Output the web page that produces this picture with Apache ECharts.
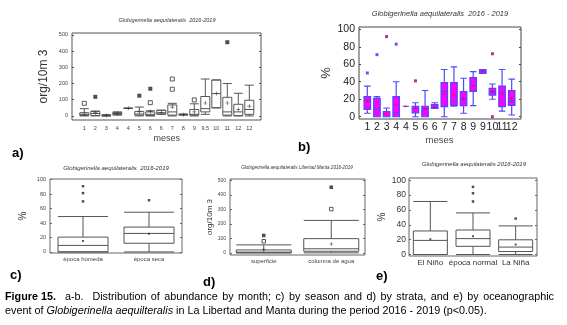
<!DOCTYPE html>
<html><head><meta charset="utf-8">
<script src="https://cdn.jsdelivr.net/npm/echarts@6/dist/echarts.min.js"></script>
<style>html,body{margin:0;padding:0;background:#fff}#c{width:567px;height:325px}</style>
</head><body><div id="c"></div>
<script>
// ---------- Panel a: abundance by month (org/10m3) ----------
const catsA = ['1','2','3','4','4','5','6','6','7','8','9','9.5','10','11','12','12'];
const boxesA = [
  [0,3,10,20,45],[0,3,15,28,30],[0,0,2,5,8],[5,8,15,22,25],[46,47,47,48,48],
  [0,5,12,28,55],[0,2,10,25,32],[10,12,20,35,35],[0,5,25,68,78],[5,7,8,10,12],
  [0,5,10,40,75],[10,25,45,120,228],[50,50,138,222,222],[0,5,25,115,200],
  [0,2,25,72,140],[0,10,40,97,190]];
const meansA = [12,20,3,15,47,25,28,22,55,8,25,80,138,80,40,60];
const outFilledA = [[1,118],[5,125],[6,168],[13,455]];
const outOpenA = [[0,78],[6,82],[8,165],[8,228],[10,99]];
const ticksA = [0,100,200,300,400,500];

// ---------- Panel b: percentage by month ----------
const catsB = ['1','2','3','4','4','5','6','6','7','7','8','9','9','10','11','12'];
const boxesB = [
  [4,8.4,18,23,35],[0,0,9,21,23],[0,0,0,6,10],[0,0,4,23,40],[12,12,12,12,12],
  [0,4.5,9.5,12,16],[0,0,9,12,30],[9.5,9.5,10.7,14,16],[0,11.5,29,39,54],
  [12,13,18,39,57],[4,12.6,20,28.6,44],[12.6,29,36,44.6,51.5],[49.6,49.6,51.5,54,54],
  [20,24.8,28,32.4,37.4],[6.5,11.5,28,35,54],[2,13,17.6,30,43]];
const meansB = [18,16.5,3,14,12,10,9,11,26,25,21,35,51.5,29,26,21];
const outBlueB = [[0,50],[1,71],[3,83]];
const outPurpleB = [[2,91.6],[5,41],[13,72],[13,0]];
const ticksB = [0,20,40,60,80,100];

// ---------- Panel c: by season ----------
const catsC = ['época húmeda','época seca'];
const boxesC = [[0,0,9,20.5,49],[0,12,25.6,34.4,55]];
const meansC = [15,25];
const outC = [[0,91],[0,81.4],[0,70],[1,71.6]];
const ticksC = [0,20,40,60,80,100];

// ---------- Panel d: by strata ----------
const catsD = ['superficie','columna de agua'];
const boxesD = [[0,0,5,20,55],[0,11,28,98,224]];
const meansD = [20,61];
const outFilledD = [[0,120],[1,453]];
const outOpenD = [[0,80],[1,302]];
const ticksD = [0,100,200,300,400,500];

// ---------- Panel e: by oceanographic event ----------
const catsE = ['El Niño','época normal','La Niña'];
const boxesE = [[0,0,19,31.7,71.4],[0,11,21.4,33,56],[0,4,10,19.8,38.5]];
const meansE = [20.6,24.6,13.5];
const outE = [[1,91],[1,82.5],[1,71.4],[2,48.4]];
const ticksE = [0,20,40,60,80,100];

const FONT = 'Liberation Sans, Arial, sans-serif';
const PLUS = 'path://M-1,-0.18H1V0.18H-1Z M-0.18,-1H0.18V1H-0.18Z';
const option = {animation:false, grid:[], xAxis:[], yAxis:[], series:[], graphic:[]};

function panel(p){
  const gi = option.grid.length, xi = option.xAxis.length, yi = option.yAxis.length;
  option.grid.push({left:p.l, top:p.t, width:p.w, height:p.h, show:true,
    borderColor:p.frame, borderWidth:1, backgroundColor:'rgba(0,0,0,0)'});
  option.grid.push({left:p.l+p.il, top:p.t, width:p.w-p.il-p.ir, height:p.h, show:false});
  option.xAxis.push({gridIndex:gi, type:'value', show:false, min:0, max:1});
  option.xAxis.push({gridIndex:gi+1, type:'category', data:p.cats,
    axisLine:{show:false}, axisTick:{show:false}, splitLine:{show:false},
    axisLabel:{interval:0, fontSize:p.xfs, color:p.xcol, margin:p.xmargin, fontFamily:FONT},
    name:p.xName||'', nameLocation:'middle', nameGap:p.xNameGap||0,
    nameTextStyle:{fontSize:p.xNameFs||9, color:'#444', fontFamily:FONT}});
  option.yAxis.push({gridIndex:gi, type:'value', min:p.min, max:p.max,
    axisLine:{show:false}, splitLine:{show:false},
    axisTick:{show:true, inside:true, length:2, customValues:p.ticks, lineStyle:{color:p.frame}},
    axisLabel:{customValues:p.ticks, fontSize:p.yfs, color:p.ycol, margin:p.ymargin, fontFamily:FONT},
    name:p.yName, nameLocation:'middle', nameGap:p.yNameGap, nameRotate:90,
    nameTextStyle:{fontSize:p.yNameFs, color:'#333', fontFamily:FONT}});
  option.yAxis.push({gridIndex:gi, type:'value', position:'right', min:p.min, max:p.max,
    axisLine:{show:false}, splitLine:{show:false}, axisLabel:{show:false},
    axisTick:{show:true, inside:true, length:2, customValues:p.ticks, lineStyle:{color:p.frame}}});
  option.yAxis.push({gridIndex:gi+1, type:'value', min:p.min, max:p.max, show:false});
  const X = xi+1, Y = yi+2;
  option.series.push({type:'boxplot', xAxisIndex:X, yAxisIndex:Y, data:p.boxes,
    boxWidth:[p.bw,p.bw], itemStyle:{color:p.fill, borderColor:p.stroke, borderWidth:p.lw||1},
    silent:true});
  option.series.push({type:'scatter', xAxisIndex:X, yAxisIndex:Y,
    data:p.means.map((m,i)=>[i,m]), symbol:p.meanSym, symbolSize:p.meanSize,
    itemStyle:{color:p.meanCol}, silent:true, z:5});
  (p.outs||[]).forEach(o=>{
    option.series.push({type:'scatter', xAxisIndex:X, yAxisIndex:Y, data:o.data,
      symbol:o.sym||'rect', symbolSize:o.size, itemStyle:o.style, silent:true, z:6});
  });
}

panel({l:72,t:33,w:189,h:87, il:6.8, ir:6.2, frame:'#555', cats:catsA, boxes:boxesA,
  min:-25, max:512, ticks:ticksA, xfs:5.5, xcol:'#444', xmargin:5, yfs:5.5, ycol:'#444', ymargin:4,
  xName:'meses', xNameGap:14, xNameFs:9, yName:'org/10m 3', yNameGap:22, yNameFs:12,
  bw:9, fill:'#fff', stroke:'#555', means:meansA, meanSym:PLUS, meanSize:4, meanCol:'#333',
  outs:[{data:outFilledA, size:4, style:{color:'#222'}},
        {data:outOpenA, size:4, style:{color:'#fff', borderColor:'#333', borderWidth:1}}]});

panel({l:359,t:27,w:162,h:92, il:3.5, ir:4.5, frame:'#444', cats:catsB, boxes:boxesB,
  min:-2.6, max:102.6, ticks:ticksB, xfs:10.5, xcol:'#222', xmargin:3, yfs:10.5, ycol:'#222', ymargin:4,
  xName:'meses', xNameGap:16, xNameFs:9.5, yName:'%', yNameGap:26, yNameFs:13,
  bw:6.5, fill:'#ff00ff', stroke:'#4a4aff', lw:1.2, means:meansB, meanSym:PLUS, meanSize:3, meanCol:'#e00000',
  outs:[{data:outBlueB, size:3, style:{color:'#3030ff'}},
        {data:outPurpleB, size:3, style:{color:'#990077'}}]});

panel({l:50,t:179,w:132,h:74, il:0, ir:0, frame:'#666', cats:catsC, boxes:boxesC,
  min:-1.5, max:101, ticks:ticksC, xfs:6, xcol:'#444', xmargin:3, yfs:5.5, ycol:'#444', ymargin:4,
  yName:'%', yNameGap:22, yNameFs:10,
  bw:50, fill:'#fff', stroke:'#555', means:meansC, meanSym:'rect', meanSize:2, meanCol:'#333',
  outs:[{data:outC, size:2.5, style:{color:'#222'}}]});

panel({l:230,t:179,w:135,h:76, il:0, ir:0, frame:'#666', cats:catsD, boxes:boxesD,
  min:-15, max:510, ticks:ticksD, xfs:6, xcol:'#444', xmargin:3, yfs:5, ycol:'#444', ymargin:4,
  yName:'org/10m 3', yNameGap:11, yNameFs:8,
  bw:55, fill:'#fff', stroke:'#555', means:meansD, meanSym:PLUS, meanSize:4, meanCol:'#333',
  outs:[{data:outFilledD, size:3.5, style:{color:'#222'}},
        {data:outOpenD, size:3.5, style:{color:'#fff', borderColor:'#333', borderWidth:1}}]});

panel({l:409,t:178,w:128,h:78, il:0, ir:0, frame:'#666', cats:catsE, boxes:boxesE,
  min:-2, max:103, ticks:ticksE, xfs:8, xcol:'#333', xmargin:3, yfs:8.5, ycol:'#333', ymargin:3,
  yName:'%', yNameGap:22, yNameFs:10,
  bw:34, fill:'#fff', stroke:'#555', means:meansE, meanSym:'rect', meanSize:2, meanCol:'#333',
  outs:[{data:outE, size:2.5, style:{color:'#222'}}]});

function txt(x,y,text,fs,extra){
  option.graphic.push({type:'text', x:x, y:y, silent:true,
    style:Object.assign({text:text, fontSize:fs, fontFamily:FONT, fill:'#222',
      align:'center', verticalAlign:'middle'}, extra||{})});
}
// Titles
txt(167,20,'Globigerinella aequilateralis  2016-2019',5.5,{fontStyle:'italic',fill:'#333'});
txt(440,14,'Globigerinella aequilateralis  2016 - 2019',7.5,{fontStyle:'italic',fill:'#333'});
txt(116,168,'Globigerinella aequilateralis  2016-2019',6,{fontStyle:'italic',fill:'#333'});
txt(297,168,'Globigerinella aequilateralis Libertad Manta 2016-2019',4.6,{fontStyle:'italic',fill:'#333'});
txt(474,164,'Globigerinella aequilateralis 2016-2019',6,{fontStyle:'italic',fill:'#333'});
// Panel letters
const bold = {fontWeight:'bold', fill:'#000', align:'left'};
txt(12,153,'a)',13,bold);
txt(298,147,'b)',13,bold);
txt(10,275,'c)',13,bold);
txt(203,282,'d)',13,bold);
txt(376,276,'e)',13,bold);
// Caption (first line justified: wider spaces)
const cap1 = 'a-b.  Distribution of abundance by month; c) by season and d) by strata, and e) by oceanographic';
option.graphic.push({type:'text', x:5, y:297, silent:true, style:{
  text:'{b|Figure 15.}{s| }{s| }' + cap1.split(' ').join('{s| }'),
  fontSize:10.8, fontFamily:FONT, fill:'#000', verticalAlign:'middle',
  rich:{b:{fontWeight:'bold', fontSize:10.8, fontFamily:FONT, fill:'#000'},
        s:{fontSize:16, fontFamily:FONT, lineHeight:13}}}});
option.graphic.push({type:'text', x:5, y:311, silent:true, style:{
  text:'event of {i|Globigerinella aequilteralis} in La Libertad and Manta during the period 2016 - 2019 (p<0.05).',
  fontSize:10.8, fontFamily:FONT, fill:'#000', verticalAlign:'middle',
  rich:{i:{fontStyle:'italic', fontSize:10.8, fontFamily:FONT, fill:'#000'}}}});

const chart = echarts.init(document.getElementById('c'), null, {renderer:'canvas'});
chart.setOption(option);
</script></body></html>
